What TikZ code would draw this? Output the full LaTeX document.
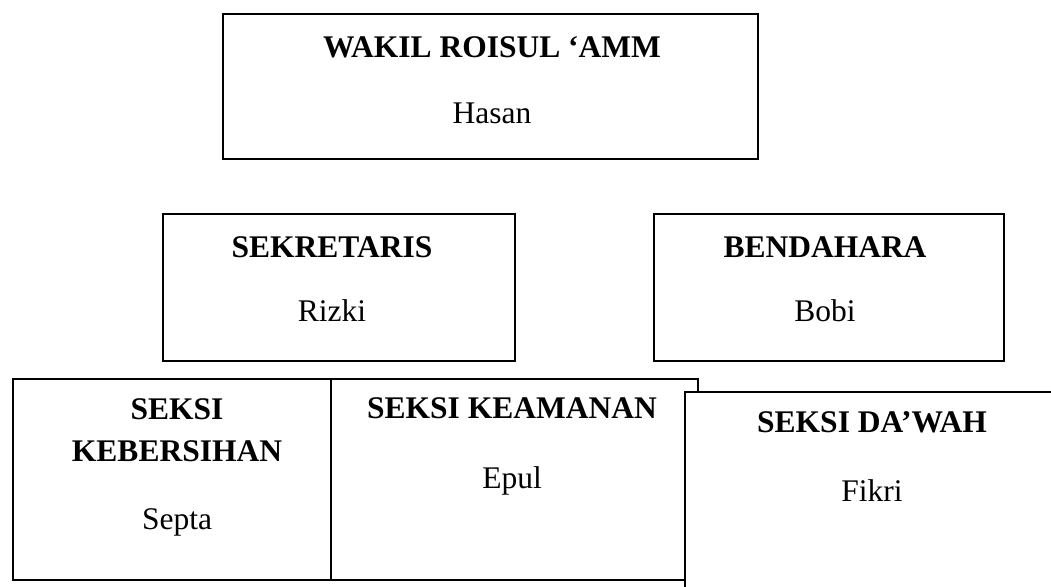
\documentclass[tikz,border=0pt]{standalone}
\usepackage{fontspec}
\setmainfont{Liberation Serif}
\begin{document}
\begin{tikzpicture}[x=1pt,y=-1pt,
  orgbox/.style={draw=black,line width=2pt,fill=white,anchor=north west,inner sep=0pt},
  orghead/.style={font=\fontsize{31.5}{36}\selectfont\bfseries,anchor=base,inner sep=0pt},
  orgperson/.style={font=\fontsize{31.5}{36}\selectfont,anchor=base,inner sep=0pt}]
\clip (0,0) rectangle (1051,586);
\fill[white] (0,0) rectangle (1051,586);
% top
\node[orgbox,minimum width=535pt,minimum height=145pt] (wakil) at (222,13) {};
\node[orghead] (wakilT) at (492,58) {WAKIL ROISUL ‘AMM};
\node[orgperson] (wakilN) at (492,123) {Hasan};
% second row
\node[orgbox,minimum width=352pt,minimum height=147pt] (sek) at (162,213) {};
\node[orghead] (sekT) at (332,257) {SEKRETARIS};
\node[orgperson] (sekN) at (332,321) {Rizki};
\node[orgbox,minimum width=350pt,minimum height=147pt] (ben) at (653,213) {};
\node[orghead] (benT) at (825,257) {BENDAHARA};
\node[orgperson] (benN) at (825,321) {Bobi};
% bottom row
\node[orgbox,minimum width=318pt,minimum height=201pt] (keb) at (12,378) {};
\node[orghead] (kebT1) at (177,419) {SEKSI};
\node[orghead] (kebT2) at (177,461) {KEBERSIHAN};
\node[orgperson] (kebN) at (177,529) {Septa};
\node[orgbox,minimum width=367pt,minimum height=201pt] (kea) at (330,378) {};
\node[orghead] (keaT) at (512,418) {SEKSI KEAMANAN};
\node[orgperson] (keaN) at (512,488) {Epul};
\node[orgbox,minimum width=420pt,minimum height=260pt] (daw) at (684,391) {};
\node[orghead] (dawT) at (872,432) {SEKSI DA’WAH};
\node[orgperson] (dawN) at (872,501) {Fikri};
\end{tikzpicture}
\end{document}
